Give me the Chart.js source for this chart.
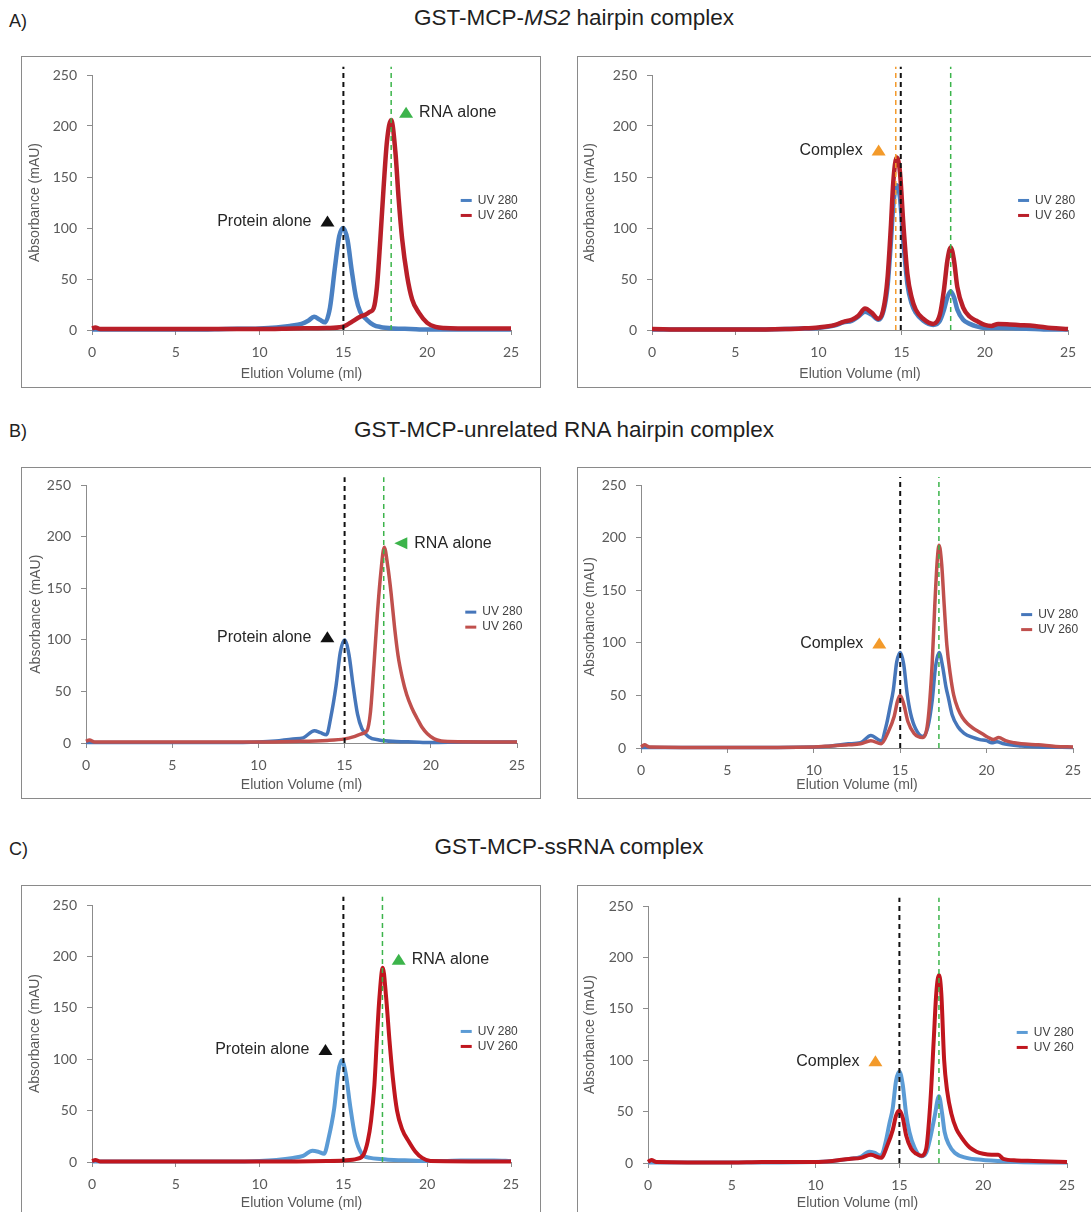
<!DOCTYPE html>
<html>
<head>
<meta charset="utf-8">
<script src="https://cdn.jsdelivr.net/npm/chart.js@4.4.1/dist/chart.umd.min.js"></script>
<style>
  html, body { margin: 0; padding: 0; background: #fff; }
  body { width: 1091px; height: 1212px; position: relative; overflow: hidden; font-family: "Liberation Sans", Arial, sans-serif; }
  .box { position: absolute; border: 1.5px solid #8a8a8a; box-sizing: border-box; }
  .tag { position: absolute; font-size: 18px; color: #222; transform: translateY(-50%); }
  .head { position: absolute; font-size: 22.5px; color: #1f1f1f; white-space: nowrap; transform: translate(-50%, -50%); }
</style>
</head>
<body>
<div class="tag" style="left:9px;top:21px">A)</div>
<div class="head" style="left:574px;top:18px">GST-MCP-<i>MS2</i> hairpin complex</div>
<div class="tag" style="left:9px;top:431px">B)</div>
<div class="head" style="left:564px;top:430px">GST-MCP-unrelated RNA hairpin complex</div>
<div class="tag" style="left:9px;top:849px">C)</div>
<div class="head" style="left:569px;top:847px">GST-MCP-ssRNA complex</div>

<script>
// axis ticks
var volumeTicks = [0, 5, 10, 15, 20, 25];
var absTicks = [0, 50, 100, 150, 200, 250];
var seriesNames = ['UV 280', 'UV 260'];

// elution profiles as [volume (ml), absorbance (mAU)]
// A) MS2 hairpin - protein alone / RNA alone
var a1Uv280 = [[0,0.5],[2,0.5],[4,0.5],[6,0.5],[8,1],[10,1.5],[11,2.5],[11.8,4],[12.5,6],[12.9,9],[13.25,13],[13.6,10],[13.9,7.5],[14.2,22],[14.5,62],[14.75,92],[15,100],[15.25,88],[15.5,58],[15.75,32],[16,18],[16.4,10],[16.8,5],[17.2,3],[18,1.5],[19,1],[20,0.5],[22,0.5],[25,0.5]];
var a1Uv260 = [[0,1.5],[0.2,2.5],[0.5,1],[5,1],[10,1],[12,1.5],[14,2],[14.9,3],[15.2,5],[15.5,8],[16,13],[16.3,15],[16.6,18],[16.8,21],[17,42],[17.2,88],[17.4,140],[17.6,185],[17.85,206],[18.1,175],[18.3,128],[18.5,90],[18.8,53],[19.1,30],[19.5,17],[20,7],[20.5,3],[21,2],[23,1.5],[25,1.5]];
// A) MS2 hairpin - mixture
var a2Uv280 = [[0,0.5],[2,0.5],[4,0.5],[6,0.5],[8,1],[9,1.5],[10,2],[11,4.5],[11.5,7.5],[12,9],[12.4,13],[12.8,18],[13.2,15],[13.6,10],[13.9,18],[14.15,42],[14.35,85],[14.5,122],[14.7,142],[14.9,130],[15.1,88],[15.35,45],[15.6,26],[15.85,17],[16.3,9],[16.9,5],[17.3,9],[17.55,20],[17.75,32],[17.95,38],[18.15,32],[18.35,20],[18.7,10],[19.1,6],[19.5,3.5],[20,2],[21,2],[22,1.5],[23,1],[24,0.5],[25,0.5]];
var a2Uv260 = [[0,1],[2,0.5],[4,0.5],[6,0.5],[8,1],[9,1.5],[10,2.5],[11,5],[11.5,8],[12,10],[12.4,14],[12.8,21],[13.2,17],[13.6,11],[13.9,20],[14.15,50],[14.35,100],[14.5,145],[14.7,169],[14.9,155],[15.1,105],[15.35,55],[15.6,32],[15.85,20],[16.3,11],[16.9,6],[17.3,15],[17.55,40],[17.75,68],[17.95,81],[18.15,68],[18.35,42],[18.7,22],[19.1,13],[19.5,9],[20,5],[20.4,4],[20.8,6],[21.5,5.5],[22,5],[23,4],[24,2],[25,1]];
// B) unrelated hairpin - protein alone / RNA alone
var b1Uv280 = [[0,0.5],[5,0.5],[8,0.5],[10,1],[11,2],[12,4],[12.6,5],[13.25,12],[13.6,10],[13.95,8],[14.2,25],[14.5,55],[14.75,88],[15,100],[15.25,86],[15.5,55],[15.75,28],[16,14],[16.4,6],[17,3],[18,1.5],[19,1],[20,0.5],[22,1],[25,1]];
var b1Uv260 = [[0,1.5],[0.2,3],[0.5,1],[5,1],[10,1],[12,1.5],[14,2.5],[15,4],[15.5,6],[16,9],[16.3,12],[16.5,30],[16.7,75],[16.9,125],[17.1,165],[17.3,190],[17.5,172],[17.7,145],[17.9,112],[18.1,85],[18.35,63],[18.6,47],[18.9,34],[19.2,24],[19.5,15],[19.8,9],[20.2,4],[20.6,2],[21,1.5],[25,1]];
// B) unrelated hairpin - mixture
var b2Uv280 = [[0,0.5],[5,0.5],[10,1],[11,2],[12,4],[12.7,5],[13.3,12],[13.9,7],[14.2,22],[14.4,38],[14.6,55],[14.8,82],[15,91],[15.2,80],[15.4,52],[15.6,33],[15.9,18],[16.3,11],[16.6,20],[16.85,45],[17.05,78],[17.25,91],[17.45,78],[17.65,58],[17.8,47],[18,32],[18.35,20],[18.7,14],[19.2,10],[19.6,8],[20,7],[20.3,5],[20.6,6],[21,4],[22,2],[23,1],[25,0.5]];
var b2Uv260 = [[0,1],[0.2,3],[0.5,1],[5,0.5],[10,1],[11,2],[12,3],[12.7,4],[13.3,7],[13.9,4],[14.3,15],[14.65,30],[14.85,45],[15,50],[15.2,42],[15.45,25],[15.8,14],[16.3,10],[16.6,25],[16.85,80],[17,135],[17.15,180],[17.25,193],[17.4,175],[17.55,135],[17.7,98],[17.9,70],[18.1,50],[18.35,37],[18.6,29],[18.9,23],[19.2,19],[19.5,16],[19.8,13],[20.1,10],[20.4,8],[20.7,10],[21.1,7],[21.6,5],[22,4],[23,3],[24,1.5],[25,1]];
// C) ssRNA - protein alone / RNA alone
var c1Uv280 = [[0,0.5],[4,0.5],[8,0.5],[10,1],[11,2],[12,4],[12.6,6],[13.15,11],[13.5,10],[13.85,8],[14.1,22],[14.45,52],[14.7,88],[14.9,99],[15.15,85],[15.4,55],[15.7,25],[16.1,8],[16.6,4],[17.2,3],[18,2],[19,1.5],[20,1],[21,1],[22,1.5],[24,1.5],[25,1]];
var c1Uv260 = [[0,1],[0.2,2],[0.5,0.5],[5,0.5],[10,0.5],[14,1],[15,1.5],[15.8,3],[16.2,7],[16.45,20],[16.65,40],[16.85,75],[17,120],[17.15,160],[17.35,189],[17.55,160],[17.75,118],[17.95,82],[18.2,50],[18.5,32],[18.9,20],[19.3,10],[19.7,4],[20.2,1],[25,0.5]];
// C) ssRNA - mixture
var c2Uv280 = [[0,0.5],[5,0.5],[10,1],[11,2],[12,4],[12.7,6],[13.2,11],[13.5,10],[13.9,7],[14.2,22],[14.4,38],[14.6,53],[14.8,80],[15,89],[15.2,76],[15.4,48],[15.6,30],[15.9,15],[16.3,6.5],[16.6,10],[16.85,25],[17.1,45],[17.36,65],[17.55,48],[17.7,30],[17.95,18],[18.3,10],[19,5],[20,3],[21,2],[22,1],[25,0.5]];
var c2Uv260 = [[0,1],[0.2,3],[0.5,1],[5,0.5],[6.8,1],[10,1],[11,2],[12,4],[12.7,5],[13.3,8],[13.9,5],[14.3,18],[14.6,32],[14.8,46],[15,51],[15.2,44],[15.4,27],[15.7,14],[16,9],[16.3,7],[16.6,14],[16.85,60],[17.05,120],[17.2,165],[17.36,183],[17.5,165],[17.67,100],[17.85,70],[18.1,48],[18.4,33],[18.7,25],[19.2,15],[19.6,11],[20,9],[20.5,8],[20.9,8],[21.2,4],[22,2.5],[23,2],[24,1.5],[25,1]];

// dashed peak markers (ml)
var a1Peaks = [15, 17.85];
var a2Peaks = [14.65, 14.95, 17.95];
var b1Peaks = [15, 17.27];
var b2Peaks = [15, 17.24];
var c1Peaks = [15, 17.33];
var c2Peaks = [15, 17.36];

// arrow labels: [text, volume, absorbance] of the triangle
var a1Labels = [['Protein alone', 14.05, 106.4], ['RNA alone', 18.74, 212.9]];
var a2Labels = [['Complex', 13.62, 176]];
var b1Labels = [['Protein alone', 14.0, 102.6], ['RNA alone', 18.29, 193.9]];
var b2Labels = [['Complex', 13.79, 99.5]];
var c1Labels = [['Protein alone', 13.93, 109], ['RNA alone', 18.3, 196.8]];
var c2Labels = [['Complex', 13.57, 99]];

var legendAt = [22, 127];

var BLACK = '#111', GREEN = '#3cb44b', ORANGE = '#f39a2a';

var panels = [
  { box: [21, 56, 520, 332], plot: [92, 511, 75, 330], yTitle: 35, xTitle: 374,
    series: [a1Uv280, a1Uv260], colors: ['#4a80c2', '#b91f29'], lw: 4.5,
    peaks: a1Peaks, peakColors: [BLACK, GREEN],
    labels: a1Labels, labelStyle: [[BLACK, 'up', 'left'], [GREEN, 'up', 'right']] },
  { box: [577, 56, 540, 332], plot: [652, 1068, 75, 330], yTitle: 590, xTitle: 374,
    series: [a2Uv280, a2Uv260], colors: ['#4a80c2', '#b91f29'], lw: 4.5,
    peaks: a2Peaks, peakColors: [ORANGE, BLACK, GREEN],
    labels: a2Labels, labelStyle: [[ORANGE, 'up', 'left']] },
  { box: [21, 467, 520, 332], plot: [86, 517, 483, 743], yTitle: 36, xTitle: 785,
    series: [b1Uv280, b1Uv260], colors: ['#4676ba', '#c0504d'], lw: 3.5,
    peaks: b1Peaks, peakColors: [BLACK, GREEN],
    labels: b1Labels, labelStyle: [[BLACK, 'up', 'left'], [GREEN, 'left', 'right']] },
  { box: [577, 467, 540, 332], plot: [641, 1073, 481, 748], yTitle: 590, xTitle: 785,
    series: [b2Uv280, b2Uv260], colors: ['#4676ba', '#c0504d'], lw: 3.5,
    peaks: b2Peaks, peakColors: [BLACK, GREEN],
    labels: b2Labels, labelStyle: [[ORANGE, 'up', 'left']] },
  { box: [21, 885, 520, 340], plot: [92, 511, 905, 1162], yTitle: 35, xTitle: 1203,
    series: [c1Uv280, c1Uv260], colors: ['#5b9bd5', '#c0161e'], lw: 4,
    peaks: c1Peaks, peakColors: [BLACK, GREEN],
    labels: c1Labels, labelStyle: [[BLACK, 'up', 'left'], [GREEN, 'up', 'right']] },
  { box: [577, 885, 540, 340], plot: [648, 1067, 906, 1163], yTitle: 590, xTitle: 1203,
    series: [c2Uv280, c2Uv260], colors: ['#5b9bd5', '#c0161e'], lw: 4,
    peaks: c2Peaks, peakColors: [BLACK, GREEN],
    labels: c2Labels, labelStyle: [[ORANGE, 'up', 'left']] }
];

var AXIS = '#8c8c8c', INK = '#595959';
var TITLE_HALF = 8.4; // half of 14px * 1.2 line height

// dashed markers, arrow labels and the small legend inside the plot
var chromExtras = {
  id: 'chromExtras',
  afterDatasetsDraw: function (chart) {
    var p = chart.options.plugins.chromExtras.panel;
    var ctx = chart.ctx, x = chart.scales.x, y = chart.scales.y;
    ctx.save();

    p.peaks.forEach(function (v, i) {
      var px = x.getPixelForValue(v);
      ctx.beginPath();
      ctx.strokeStyle = p.peakColors[i];
      ctx.lineWidth = p.peakColors[i] === BLACK ? 2 : 1.5;
      ctx.setLineDash([5, 4]);
      ctx.moveTo(px, y.getPixelForValue(0));
      ctx.lineTo(px, y.getPixelForValue(258));
      ctx.stroke();
    });
    ctx.setLineDash([]);

    ctx.font = '16px "Liberation Sans", Arial, sans-serif';
    ctx.textBaseline = 'middle';
    p.labels.forEach(function (lab, i) {
      var st = p.labelStyle[i];
      var cx = x.getPixelForValue(lab[1]), cy = y.getPixelForValue(lab[2]);
      ctx.fillStyle = st[0];
      ctx.beginPath();
      if (st[1] === 'up') {
        ctx.moveTo(cx - 7, cy + 5); ctx.lineTo(cx + 7, cy + 5); ctx.lineTo(cx, cy - 6);
      } else {
        ctx.moveTo(cx - 7, cy); ctx.lineTo(cx + 6, cy - 6); ctx.lineTo(cx + 6, cy + 6);
      }
      ctx.closePath();
      ctx.fill();
      ctx.fillStyle = '#262626';
      if (st[2] === 'left') {
        ctx.textAlign = 'right';
        ctx.fillText(lab[0], cx - 16, cy);
      } else {
        ctx.textAlign = 'left';
        ctx.fillText(lab[0], cx + 13, cy);
      }
    });

    var lx = x.getPixelForValue(legendAt[0]), ly = y.getPixelForValue(legendAt[1]);
    ctx.font = '12px "Liberation Sans", Arial, sans-serif';
    ctx.textAlign = 'left';
    chart.data.datasets.forEach(function (ds, i) {
      var yy = ly + i * 15;
      ctx.strokeStyle = ds.borderColor;
      ctx.lineWidth = 3;
      ctx.beginPath();
      ctx.moveTo(lx, yy); ctx.lineTo(lx + 11, yy);
      ctx.stroke();
      ctx.fillStyle = '#404040';
      ctx.fillText(ds.label, lx + 17, yy);
    });
    ctx.restore();
  }
};

function makePanel(p) {
  var bx = p.box[0], by = p.box[1], bw = p.box[2], bh = p.box[3];
  var L = p.plot[0], R = p.plot[1], T = p.plot[2], B = p.plot[3];
  var scaleLeft = p.yTitle - TITLE_HALF;
  var yWidth = L - scaleLeft;
  var xHeight = p.xTitle + TITLE_HALF - B;

  var frame = document.createElement('div');
  frame.className = 'box';
  frame.style.left = bx + 'px'; frame.style.top = by + 'px';
  frame.style.width = bw + 'px'; frame.style.height = bh + 'px';
  document.body.appendChild(frame);

  var canvas = document.createElement('canvas');
  canvas.width = bw; canvas.height = bh;
  canvas.style.position = 'absolute';
  canvas.style.left = bx + 'px'; canvas.style.top = by + 'px';
  document.body.appendChild(canvas);

  var tickFont = { family: 'Lato, "Open Sans", sans-serif', size: 14 };
  var titleFont = { family: '"Liberation Sans", Arial, sans-serif', size: 14 };

  new Chart(canvas.getContext('2d'), {
    type: 'line',
    data: {
      datasets: p.series.map(function (s, i) {
        return {
          label: seriesNames[i],
          data: s,
          borderColor: p.colors[i],
          borderWidth: p.lw,
          pointRadius: 0,
          cubicInterpolationMode: 'monotone',
          fill: false,
          clip: 6,
          order: 1 - i
        };
      })
    },
    options: {
      responsive: false,
      animation: false,
      devicePixelRatio: 1,
      layout: {
        padding: { left: scaleLeft - bx, right: bx + bw - R, top: T - by, bottom: by + bh - (B + xHeight) }
      },
      plugins: {
        legend: { display: false },
        tooltip: { enabled: false },
        chromExtras: { panel: p }
      },
      scales: {
        x: {
          type: 'linear', min: 0, max: 25,
          afterFit: function (s) { s.height = xHeight; },
          afterBuildTicks: function (s) { s.ticks = volumeTicks.map(function (v) { return { value: v }; }); },
          ticks: { color: INK, font: tickFont, padding: 9 },
          grid: { display: true, drawOnChartArea: false, drawTicks: true, tickLength: 5, color: AXIS },
          border: { display: true, color: AXIS, width: 1 },
          title: { display: true, text: 'Elution Volume (ml)', color: INK, font: titleFont, padding: 0 }
        },
        y: {
          min: 0, max: 250,
          afterFit: function (s) { s.width = yWidth; },
          afterBuildTicks: function (s) { s.ticks = absTicks.map(function (v) { return { value: v }; }); },
          ticks: { color: INK, font: tickFont, padding: 10 },
          grid: { display: true, drawOnChartArea: false, drawTicks: true, tickLength: 5, color: AXIS },
          border: { display: true, color: AXIS, width: 1 },
          title: { display: true, text: 'Absorbance (mAU)', color: INK, font: titleFont, padding: 0 }
        }
      }
    },
    plugins: [chromExtras]
  });
}

panels.forEach(makePanel);
</script>
</body>
</html>
